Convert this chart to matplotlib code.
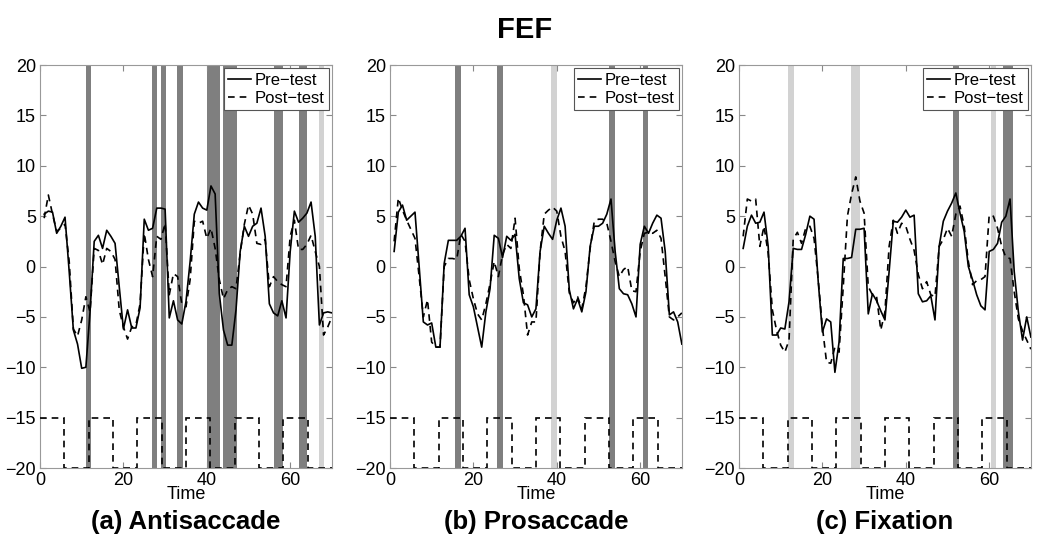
import numpy as np
import matplotlib
matplotlib.use('Agg')
import matplotlib.pyplot as plt

plt.rcParams['font.family'] = ['Liberation Sans', 'DejaVu Sans']

t = np.arange(1, 71)

anti_pre = [5.2, 5.5, 5.4, 3.3, 4.0, 4.9, -0.5, -6.3, -7.7, -10.1,
            -10.0, -4.5, 2.5, 3.1, 1.8, 3.6, 3.0, 2.3, -2.0, -6.2,
            -4.3, -6.1, -6.1, -4.1, 4.7, 3.6, 3.8, 5.8, 5.8, 5.7,
            -5.1, -3.4, -5.3, -5.7, -3.5, 0.5, 5.2, 6.4, 5.8, 5.6,
            8.0, 7.2, -2.7, -6.3, -7.8, -7.8, -4.3, 1.5, 4.0, 3.0,
            4.0, 4.3, 5.8, 3.0, -3.7, -4.6, -4.9, -3.4, -5.1, 1.5,
            5.5, 4.4, 4.8, 5.3, 6.4, 3.0, -5.8, -4.6, -4.5, -4.6]
anti_post = [4.8, 7.1, 5.2, 3.5, 3.8, 4.2, 0.5, -6.2, -6.9, -5.3,
             -3.0, -4.5, 1.8, 1.6, 0.2, 1.8, 1.5, 0.7, -4.3, -6.0,
             -7.2, -6.0, -5.8, -3.7, 3.3, 0.7, -1.0, 3.0, 2.7, 4.3,
             -2.8, -0.7, -1.0, -3.7, -4.0, -1.3, 4.5, 4.3, 4.5, 2.8,
             3.8, 1.8, -1.3, -3.2, -2.3, -2.0, -2.2, 1.3, 4.2, 6.1,
             5.2, 2.3, 2.2, 2.7, -2.0, -1.0, -1.5, -1.8, -2.0, 3.0,
             4.6, 1.7, 1.7, 2.2, 3.1, 1.5, 0.0, -6.8, -6.0, -5.0]

pro_pre = [1.5, 5.4, 6.1, 4.6, 5.0, 5.4, 0.0, -5.5, -5.8, -5.6,
           -8.0, -8.0, 0.3, 2.6, 2.6, 2.6, 3.0, 3.8, -2.8, -4.0,
           -6.0, -8.0, -4.5, -2.2, 3.1, 2.8, 0.9, 3.0, 2.6, 3.2,
           -1.2, -3.6, -3.8, -5.0, -4.2, 1.5, 4.0, 3.3, 2.7, 4.6,
           5.8, 4.0, -2.3, -4.2, -3.2, -4.5, -2.5, 2.0, 4.0, 4.0,
           4.3, 5.2, 6.7, 1.5, -2.2, -2.7, -2.8, -3.7, -5.0, 2.2,
           4.0, 3.3, 4.3, 5.1, 4.8, 1.5, -4.8, -4.5, -5.5, -7.7]
pro_post = [2.5, 6.8, 5.6, 4.6, 3.7, 2.8, -1.0, -5.0, -3.3, -7.5,
            -8.0, -8.0, 0.0, 0.8, 0.8, 0.7, 3.2, 2.5, -1.3, -3.2,
            -4.7, -5.3, -3.7, -1.7, 0.5, -1.0, 1.2, 2.2, 1.8, 4.8,
            -0.2, -2.8, -6.8, -5.5, -5.5, 1.5, 5.2, 5.6, 5.9, 5.5,
            3.0, 1.5, -2.6, -3.6, -3.0, -4.2, -2.0, 1.8, 4.5, 4.7,
            4.7, 4.3, 2.5, 0.5, -1.0, -0.3, 0.0, -2.4, -2.5, 1.5,
            3.3, 3.4, 3.3, 3.6, 2.8, -1.0, -5.0, -5.3, -5.0, -4.6]

fix_pre = [1.8, 4.0, 5.1, 4.3, 4.4, 5.4, 2.0, -6.8, -6.8, -6.1,
           -6.2, -3.5, 1.8, 1.7, 1.7, 3.2, 5.0, 4.7, -1.5, -6.5,
           -5.2, -5.5, -10.5, -7.5, 0.8, 0.8, 0.9, 3.7, 3.7, 3.8,
           -4.7, -2.7, -3.4, -4.4, -5.3, -0.5, 4.5, 4.4, 4.9, 5.6,
           4.9, 5.1, -2.7, -3.5, -3.4, -2.9, -5.3, 2.0, 4.5, 5.5,
           6.3, 7.3, 5.3, 3.5, 0.0, -1.3, -2.8, -3.9, -4.3, 1.5,
           1.7, 2.3, 4.4, 5.0, 6.7, -0.5, -4.5, -7.3, -5.0, -7.0]
fix_post = [3.0, 6.7, 6.5, 6.7, 2.0, 4.0, 1.3, -4.3, -6.3, -7.8,
            -8.5, -7.3, 2.7, 3.4, 2.3, 3.8, 4.0, 2.8, -1.3, -6.0,
            -9.5, -9.6, -8.0, -8.5, -2.0, 5.0, 7.2, 8.9, 6.5, 5.3,
            -2.0, -2.8, -3.0, -6.3, -4.5, 2.0, 4.6, 3.3, 4.3, 4.0,
            2.7, 1.6, -0.8, -2.2, -1.5, -2.8, -3.0, 2.0, 2.7, 3.8,
            3.0, 5.2, 6.0, 4.0, 0.5, -1.8, -1.4, -1.3, -1.0, 5.1,
            5.0, 3.8, 2.0, 0.9, 0.8, -2.5, -5.2, -6.4, -7.3, -8.2]

# stimulus square wave
stim_edges = [0, 5.8, 11.7, 17.5, 23.3, 29.2, 35.0, 40.8, 46.7, 52.5, 58.3, 64.2, 70]
stim_levels = [-15, -20, -15, -20, -15, -20, -15, -20, -15, -20, -15, -20]

# shaded intervals: (start, end, dark?)
anti_bands = [(11.0, 12.2, 1), (26.9, 28.1, 1), (28.9, 30.1, 1), (32.9, 34.2, 1),
              (40.0, 43.2, 1), (44.0, 47.3, 1), (56.0, 58.2, 1), (62.0, 64.1, 1),
              (67.0, 68.2, 0)]
pro_bands = [(15.7, 17.1, 1), (25.7, 27.0, 1), (38.7, 40.0, 0), (52.6, 53.9, 1),
             (60.6, 61.8, 1)]
fix_bands = [(11.8, 13.1, 0), (26.8, 28.9, 0), (51.4, 52.7, 1), (60.4, 61.6, 0),
             (63.4, 65.6, 1)]

panels = [
    ('(a) Antisaccade', anti_pre, anti_post, anti_bands),
    ('(b) Prosaccade', pro_pre, pro_post, pro_bands),
    ('(c) Fixation', fix_pre, fix_post, fix_bands),
]

fig = plt.figure(figsize=(10.5, 5.49), dpi=100)
lefts = [0.0381, 0.3714, 0.7038]

for left, (name, pre, post, bands) in zip(lefts, panels):
    ax = fig.add_axes([left, 0.1475, 0.278, 0.734])
    for a, b, dark in bands:
        ax.axvspan(a, b, color='#7f7f7f' if dark else '#d2d2d2', lw=0, zorder=1)
    ax.plot(t, pre, color='k', lw=1.2, label='Pre\u2212test', zorder=3)
    ax.plot(t, post, color='k', lw=1.2, ls=(0, (4, 3)), label='Post\u2212test', zorder=3)
    ax.stairs(stim_levels, stim_edges, baseline=None, color='k', lw=1.2,
              ls=(0, (4, 3)), zorder=3)
    ax.set_xlim(0, 70)
    ax.set_ylim(-20, 20)
    ax.set_xticks([0, 20, 40, 60])
    ax.set_yticks([-20, -15, -10, -5, 0, 5, 10, 15, 20])
    ax.set_yticklabels(['\u221220', '\u221215', '\u221210', '\u22125', '0', '5', '10', '15', '20'])
    ax.tick_params(direction='in', length=4, top=True, right=True, labelsize=13,
                   color='#888888', pad=3)
    for s in ax.spines.values():
        s.set_color('#999999')
        s.set_linewidth(0.8)
    ax.set_xlabel('Time', fontsize=13, labelpad=-2)
    leg = ax.legend(loc='upper right', fontsize=12, handlelength=1.4,
                    handletextpad=0.2, borderpad=0.25, labelspacing=0.2,
                    borderaxespad=0.2, fancybox=False, framealpha=1)
    leg.get_frame().set_edgecolor('#555555')
    leg.get_frame().set_linewidth(0.8)
    fig.text(left + 0.139, 0.049, name, ha='center', va='center',
             fontsize=18.5, fontweight='bold')

fig.text(0.5, 0.945, 'FEF', ha='center', va='center', fontsize=21, fontweight='bold')

fig.savefig('out.png', dpi=100)
